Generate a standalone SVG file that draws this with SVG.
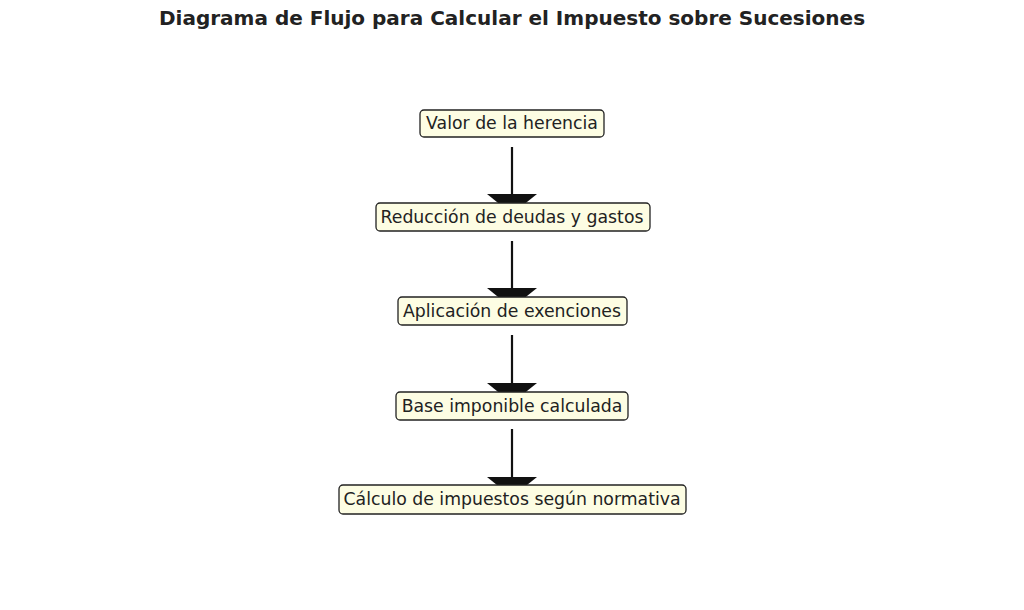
<svg xmlns="http://www.w3.org/2000/svg" width="1024" height="610" viewBox="0 0 1024 610">
<style>
.box{fill:#fdfde3;stroke:#222;stroke-width:1.3}
.t{font-family:"DejaVu Sans",sans-serif;font-size:17.3px;fill:#222;text-anchor:middle}
.ln{stroke:#111;stroke-width:2.2}
.hd{fill:#111}
</style>
<rect width="1024" height="610" fill="#fff"/>
<text x="512" y="25" font-family="DejaVu Sans,sans-serif" font-size="20" font-weight="bold" fill="#222" text-anchor="middle">Diagrama de Flujo para Calcular el Impuesto sobre Sucesiones</text>
<g id="connectors">
<line class="ln" x1="512" y1="147" x2="512" y2="196"/><polygon class="hd" points="487,194 537,194 512,214"/>
<line class="ln" x1="512" y1="241" x2="512" y2="290"/><polygon class="hd" points="487,288 537,288 512,308"/>
<line class="ln" x1="512" y1="335" x2="512" y2="385"/><polygon class="hd" points="487,383 537,383 512,403"/>
<line class="ln" x1="512" y1="429" x2="512" y2="479"/><polygon class="hd" points="487,477 537,477 512,497"/>
</g>
<g id="n1"><rect class="box" x="420" y="110" width="184" height="27" rx="4"/><text class="t" x="512" y="129">Valor de la herencia</text></g>
<g id="n2"><rect class="box" x="376" y="203" width="274" height="28" rx="4"/><text class="t" x="512" y="223">Reducción de deudas y gastos</text></g>
<g id="n3"><rect class="box" x="398" y="297" width="229" height="28" rx="4"/><text class="t" x="512" y="317">Aplicación de exenciones</text></g>
<g id="n4"><rect class="box" x="396" y="392" width="232" height="28" rx="4"/><text class="t" x="512" y="412">Base imponible calculada</text></g>
<g id="n5"><rect class="box" x="339" y="485" width="347" height="29" rx="4"/><text class="t" x="512" y="505">Cálculo de impuestos según normativa</text></g>
</svg>
